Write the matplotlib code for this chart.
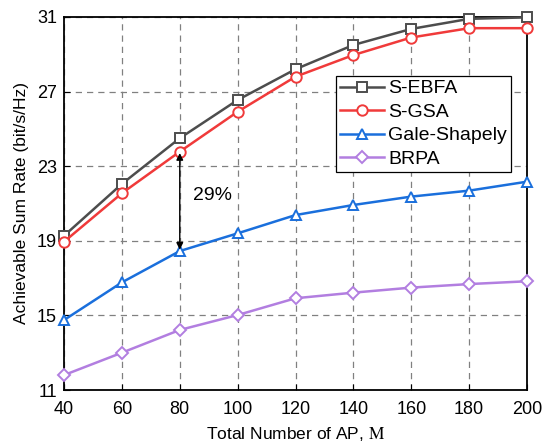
import matplotlib
matplotlib.use('Agg')
import matplotlib.pyplot as plt

plt.rcParams['font.family'] = ['Liberation Sans', 'DejaVu Sans']
plt.rcParams['mathtext.fontset'] = 'stix'

ap_counts = [40, 60, 80, 100, 120, 140, 160, 180, 200]
s_ebfa = [19.27, 22.05, 24.5, 26.55, 28.2, 29.5, 30.36, 30.9, 30.98]
s_gsa = [18.95, 21.55, 23.78, 25.92, 27.8, 28.96, 29.9, 30.4, 30.4]
gale_shapely = [14.75, 16.77, 18.45, 19.4, 20.38, 20.92, 21.37, 21.69, 22.17]
brpa = [11.8, 13.0, 14.22, 15.02, 15.92, 16.22, 16.49, 16.68, 16.83]

series = [
    ('S-EBFA', s_ebfa, '#4d4d4d', 's'),
    ('S-GSA', s_gsa, '#f03a3a', 'o'),
    ('Gale-Shapely', gale_shapely, '#1a6fdc', '^'),
    ('BRPA', brpa, '#b27ee0', 'D'),
]

fig = plt.figure(figsize=(5.49, 4.47), dpi=100)
ax = fig.add_axes([0.1166, 0.1275, 0.8434, 0.8345])

for name, vals, color, marker in series:
    ms = 6 if marker == 'D' else 7.5
    ax.plot(ap_counts, vals, color=color, marker=marker, lw=1.8,
            markersize=ms, markerfacecolor='white', markeredgewidth=1.4,
            label=name, clip_on=False, zorder=3)

# gap between S-GSA and Gale-Shapely at M = 80
ax.annotate('', xy=(80, s_gsa[2]), xytext=(80, gale_shapely[2]),
            arrowprops=dict(arrowstyle='<|-|>', color='black', lw=1.0,
                            mutation_scale=10, shrinkA=1, shrinkB=1))
ax.text(84.5, 21.45, '29%', fontsize=14, va='center', ha='left')

ax.set_xlim(40, 200)
ax.set_ylim(11, 31)
ax.set_xticks(ap_counts)
ax.set_yticks([11, 15, 19, 23, 27, 31])
ax.tick_params(direction='in', labelsize=13, length=4)
ax.tick_params(axis='x', pad=8)
ax.tick_params(axis='y', pad=5)
ax.grid(True, linestyle=(0, (5, 4)), color='#808080', lw=0.9)
for sp in ax.spines.values():
    sp.set_linewidth(1.3)

ax.set_xlabel(r'Total Number of AP, $\mathrm{M}$', fontsize=12.5, labelpad=5)
ax.set_ylabel('Achievable Sum Rate (bit/s/Hz)', fontsize=12.5, labelpad=6)

leg = ax.legend(loc='upper right', bbox_to_anchor=(0.965, 0.842),
                fontsize=14, handlelength=2.3, fancybox=False,
                edgecolor='black', framealpha=1, borderpad=0.2,
                labelspacing=0.3, handletextpad=0.2, borderaxespad=0)
leg.get_frame().set_linewidth(0.9)

fig.savefig('out.png', dpi=100)
